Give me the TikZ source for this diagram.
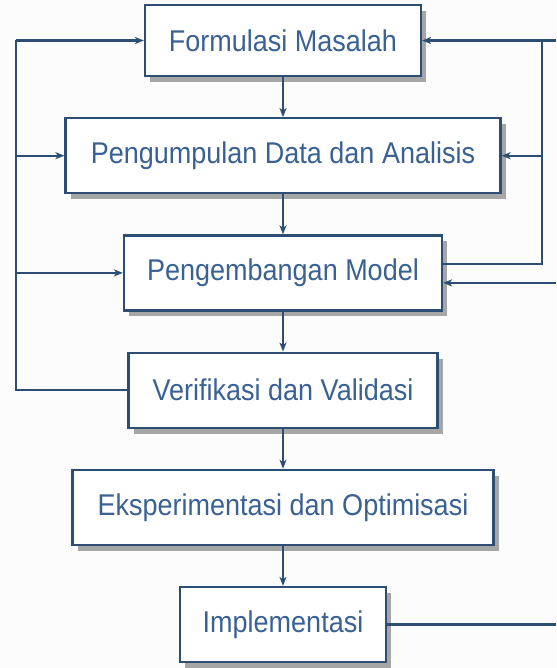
\documentclass[tikz,border=0pt]{standalone}
\usepackage{fontspec}
\setmainfont{Liberation Sans}[FakeStretch=0.9]
\usetikzlibrary{positioning, arrows.meta, shadows, calc}

\definecolor{frameblue}{HTML}{2C4E72}
\definecolor{textblue}{HTML}{3A6194}

\begin{document}
\begin{tikzpicture}[->, >={Stealth[length=9pt, width=7pt, inset=2.5pt]}, x=1pt, y=1pt,
    node distance=40pt and 0pt,
    link/.style={draw=frameblue, line width=2.2pt},
    stage/.style={draw=frameblue, line width=2.2pt, fill=white, rectangle,
        minimum height=75pt, text=textblue, font=\fontsize{30}{33}\selectfont,
        drop shadow={shadow xshift=5pt, shadow yshift=-6pt, fill=black!35, opacity=1}}]
    \fill[white!99!black] (0,0) rectangle (556,-668);
    \useasboundingbox (0,0) rectangle (556,-668);

    % the six stages, top to bottom
    \node[stage, minimum width=276pt, minimum height=71pt] (formulasi) at (283,-40.5) {Formulasi Masalah};
    \node[stage, minimum width=435pt, below=of formulasi] (data) {Pengumpulan Data dan Analisis};
    \node[stage, minimum width=318pt, below=of data] (model) {Pengembangan Model};
    \node[stage, minimum width=309pt, below=of model] (verifikasi) {Verifikasi dan Validasi};
    \node[stage, minimum width=421pt, below=of verifikasi] (eksperimen) {Eksperimentasi dan Optimisasi};
    \node[stage, minimum width=206pt, below=of eksperimen] (implementasi) {Implementasi};

    \path[link] (formulasi) edge (data)
          (data) edge (model)
          (model) edge (verifikasi)
          (verifikasi) edge (eksperimen)
          (eksperimen) edge (implementasi);

    % feedback rails
    \coordinate (lrail) at (16,0);
    \coordinate (rrail) at (542,0);
    \coordinate (edge) at (556,0);

    % left loop from verification back up
    \draw[-, link] (verifikasi.west) -- (verifikasi.west -| lrail) -- (formulasi.west -| lrail);
    \draw[link] (formulasi.west -| lrail) -- (formulasi.west);
    \draw[link] (data.west -| lrail) -- (data.west);
    \draw[link] (model.west -| lrail) -- (model.west);

    % right loop from the model back up
    \coordinate (mout) at ($(model.east)+(0,9)$);
    \coordinate (min) at ($(model.east)+(0,-10)$);
    \draw[-, link] (mout) -- (mout -| rrail) -- (formulasi.east -| rrail);
    \draw[link, line width=2.6pt] (formulasi.east -| edge) -- (formulasi.east);
    \draw[link] (data.east -| rrail) -- (data.east);
    \draw[link, line width=2.4pt] (min -| edge) -- (min);

    % implementation goes off to the right
    \draw[-, link, line width=2.8pt] (implementasi.east) -- (implementasi.east -| edge);
\end{tikzpicture}
\end{document}
